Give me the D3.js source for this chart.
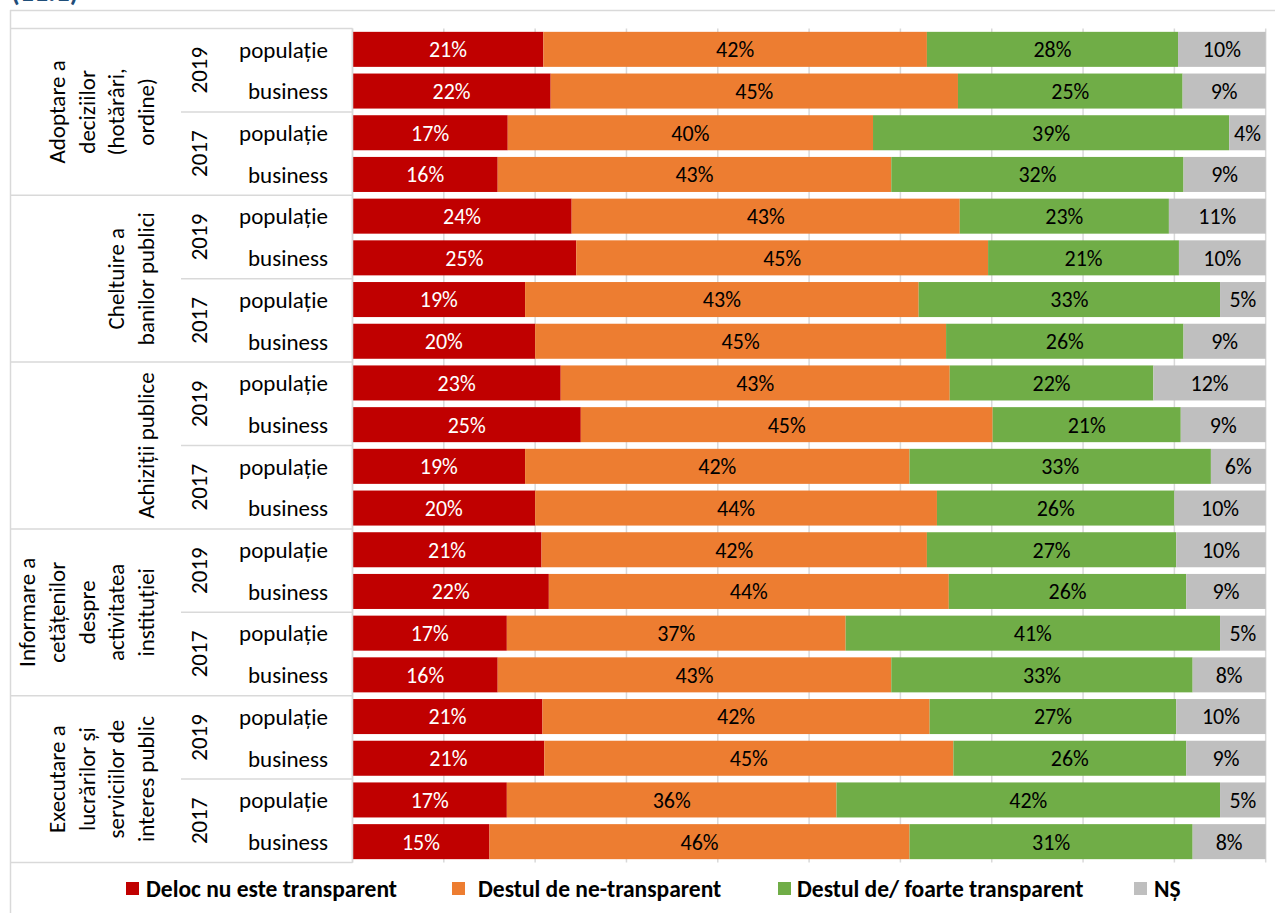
<!DOCTYPE html>
<html>
<head>
  <meta charset="utf-8">
  <style>
    body { margin: 0; background: #fff; }
    svg text { font-family: Carlito, Calibri, Lato, sans-serif; }
  </style>
</head>
<body>
  <script src="https://d3js.org/d3.v7.min.js"></script>
  <script>
    // categories
    const groupLabels = [
      ["Adoptare a", "deciziilor", "(hotărâri,", "ordine)"],
      ["Cheltuire a", "banilor publici"],
      ["Achiziții publice"],
      ["Informare a", "cetățenilor", "despre", "activitatea", "instituției"],
      ["Executare a", "lucrărilor și", "serviciilor de", "interes public"]
    ];
    const years = ["2019", "2017"];
    const respondents = ["populație", "business"];

    // series values (%), 20 rows top to bottom
    const delocNu = [20.9, 21.7, 17.0, 15.9, 24.0, 24.5, 18.9, 20.0, 22.8, 25.0,
                     18.9, 20.0, 20.7, 21.5, 16.9, 15.9, 20.8, 21.0, 16.9, 15.0];
    const destulNe = [42.0, 44.6, 40.0, 43.1, 42.5, 45.1, 43.1, 45.0, 42.6, 45.1,
                      42.1, 44.0, 42.2, 43.8, 37.1, 43.1, 42.4, 44.8, 36.1, 46.0];
    const destulTr = [27.5, 24.6, 39.0, 32.0, 22.9, 20.9, 33.0, 26.0, 22.3, 20.6,
                      33.0, 26.0, 27.3, 26.0, 41.0, 33.0, 27.0, 25.5, 42.0, 31.0];
    const nsValues = [9.6, 9.1, 4.0, 9.0, 10.6, 9.5, 5.0, 9.0, 12.3, 9.3,
                      6.0, 10.0, 9.8, 8.7, 5.0, 8.0, 9.8, 8.7, 5.0, 8.0];

    const seriesNames = ["Deloc nu este transparent", "Destul de ne-transparent",
                         "Destul de/ foarte transparent", "NȘ"];
    const xTicks = [0, 10, 20, 30, 40, 50, 60, 70, 80, 90, 100];

    const keys = ["a", "b", "c", "d"];
    const colors = ["#C00000", "#ED7D31", "#70AD47", "#BFBFBF"];
    const labelColors = ["#ffffff", "#000000", "#000000", "#000000"];

    const W = 1275, H = 913;
    const plotLeft = 352.5, plotRight = 1265.7, plotTop = 28.5, plotBottom = 862.5;
    const lineColor = "#d9d9d9";
    const fs = 23;

    // rows table
    const rows = [];
    groupLabels.forEach((g, gi) => {
      years.forEach((yr, yi) => {
        respondents.forEach((r, ri) => {
          const i = gi * 4 + yi * 2 + ri;
          rows.push({ id: i, group: gi, year: yr, resp: r,
            a: delocNu[i], b: destulNe[i], c: destulTr[i], d: nsValues[i] });
        });
      });
    });

    const svg = d3.select("body").append("svg")
      .attr("width", W)
      .attr("height", H);

    const x = d3.scaleLinear().domain([0, 100]).range([plotLeft, plotRight]);
    const y = d3.scaleBand()
      .domain(rows.map(d => d.id))
      .range([plotTop, plotBottom])
      .paddingInner(0.16)
      .paddingOuter(0.08);
    const step = y.step();

    // title, cut by the top edge as in the source image
    svg.append("text")
      .attr("x", 11).attr("y", 1)
      .attr("font-size", 28).attr("font-weight", "bold")
      .attr("fill", "#1F4E79")
      .text("(11.1)");

    // outer frame
    svg.append("line").attr("x1", 10).attr("x2", W).attr("y1", 10.5).attr("y2", 10.5)
      .attr("stroke", lineColor).attr("stroke-width", 1.5);
    svg.append("line").attr("x1", 10.5).attr("x2", 10.5).attr("y1", 10).attr("y2", H)
      .attr("stroke", lineColor).attr("stroke-width", 1.5);

    // gridlines
    svg.append("g")
      .selectAll("line")
      .data(xTicks)
      .join("line")
      .attr("x1", d => x(d)).attr("x2", d => x(d))
      .attr("y1", plotTop).attr("y2", plotBottom)
      .attr("stroke", lineColor).attr("stroke-width", 1.5);

    // stacked bars
    const stack = d3.stack().keys(keys)(rows);
    const layers = svg.append("g")
      .selectAll("g")
      .data(stack)
      .join("g")
      .attr("fill", (d, i) => colors[i]);

    layers.selectAll("rect")
      .data(d => d)
      .join("rect")
      .attr("x", d => x(d[0]))
      .attr("y", d => y(d.data.id))
      .attr("width", d => x(d[1]) - x(d[0]))
      .attr("height", y.bandwidth());

    layers.each(function (layer, li) {
      d3.select(this).selectAll("text")
        .data(layer)
        .join("text")
        .attr("x", d => (x(d[0]) + x(d[1])) / 2)
        .attr("y", d => y(d.data.id) + y.bandwidth() / 2)
        .attr("dy", "0.36em")
        .attr("text-anchor", "middle")
        .attr("font-size", 22)
        .attr("fill", labelColors[li])
        .text(d => Math.round(d[1] - d[0]) + "%");
    });

    // left table lines
    const tbl = svg.append("g").attr("stroke", lineColor).attr("stroke-width", 1.5);
    tbl.append("line").attr("x1", 10).attr("x2", plotLeft).attr("y1", plotTop).attr("y2", plotTop);
    tbl.append("line").attr("x1", plotLeft).attr("x2", plotLeft).attr("y1", plotTop).attr("y2", plotBottom);
    groupLabels.forEach((g, gi) => {
      const yEnd = plotTop + (gi + 1) * 4 * step;
      tbl.append("line").attr("x1", 10).attr("x2", plotLeft).attr("y1", yEnd).attr("y2", yEnd);
      const yMid = plotTop + (gi * 4 + 2) * step;
      tbl.append("line").attr("x1", 181).attr("x2", plotLeft).attr("y1", yMid).attr("y2", yMid);
    });

    // respondent labels
    svg.append("g")
      .selectAll("text")
      .data(rows)
      .join("text")
      .attr("x", 328)
      .attr("y", d => y(d.id) + y.bandwidth() / 2)
      .attr("dy", "0.36em")
      .attr("text-anchor", "end")
      .attr("font-size", fs)
      .attr("fill", "#000")
      .text(d => d.resp);

    // year labels (rotated)
    const yearRows = rows.filter(d => d.resp === respondents[0]);
    svg.append("g")
      .selectAll("text")
      .data(yearRows)
      .join("text")
      .attr("transform", d => `translate(207,${plotTop + (d.id + 1) * step}) rotate(-90)`)
      .attr("text-anchor", "middle")
      .attr("font-size", fs)
      .attr("fill", "#000")
      .text(d => d.year);

    // group labels (rotated, multiline)
    groupLabels.forEach((lines, gi) => {
      const cy = plotTop + (gi * 4 + 2) * step;
      const n = lines.length;
      const t = svg.append("text")
        .attr("transform", `translate(0,${cy}) rotate(-90)`)
        .attr("text-anchor", "middle")
        .attr("font-size", fs)
        .attr("fill", "#000");
      lines.forEach((ln, li) => {
        t.append("tspan")
          .attr("x", 0)
          .attr("y", 154 - (n - 1 - li) * 29.7)
          .text(ln);
      });
    });

    // legend
    const legendBoxX = [126, 452, 778, 1134];
    const legendTextX = [146, 478, 797, 1154];
    const leg = svg.append("g");
    seriesNames.forEach((name, i) => {
      leg.append("rect")
        .attr("x", legendBoxX[i]).attr("y", 882)
        .attr("width", 13).attr("height", 13)
        .attr("fill", colors[i]);
      leg.append("text")
        .attr("x", legendTextX[i]).attr("y", 888.5)
        .attr("dy", "0.36em")
        .attr("font-size", 23.5).attr("font-weight", "bold")
        .attr("fill", "#000")
        .text(name);
    });
  </script>
</body>
</html>
